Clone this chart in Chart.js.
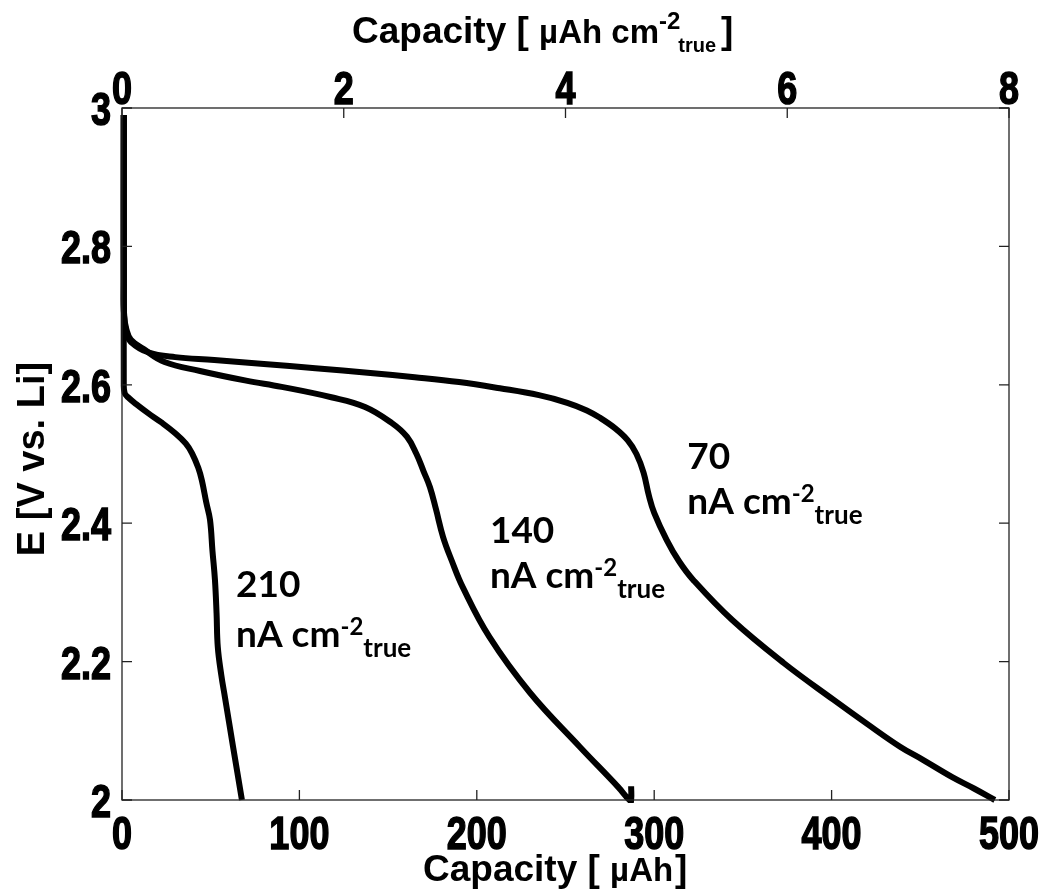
<!DOCTYPE html>
<html>
<head>
<meta charset="utf-8">
<script src="https://cdn.jsdelivr.net/npm/chart.js@4.4.1/dist/chart.umd.min.js"></script>
<style>
  body { margin: 0; background: #fff; }
  canvas { display: block; }
</style>
</head>
<body>
<canvas id="myChart" width="1045" height="890"></canvas>
<script>
// discharge curves, capacity [µAh] vs E [V vs. Li]
var cap70  = [1, 1, 1.2, 2.5, 5, 14.7, 30, 52, 80, 109, 140, 165, 190, 213, 235, 251, 262, 269, 278, 285, 290, 294, 297, 300, 307, 314, 322, 344, 373, 401, 420, 438.6, 451.5, 468, 480, 492];
var volt70 = [2.99, 2.75, 2.70, 2.675, 2.662, 2.647, 2.640, 2.636, 2.630, 2.624, 2.617, 2.611, 2.604, 2.595, 2.585, 2.574, 2.563, 2.553, 2.537, 2.52, 2.50, 2.473, 2.44, 2.415, 2.376, 2.345, 2.318, 2.26, 2.198, 2.145, 2.11, 2.077, 2.058, 2.033, 2.017, 2.0];

var cap140  = [1, 1, 1.2, 2.5, 5, 12, 24, 44, 70, 90, 118, 137, 152, 160.6, 166, 170, 173.6, 177, 181, 186, 192, 207, 230, 258, 279.6, 286, 287, 287];
var volt140 = [2.99, 2.75, 2.70, 2.68, 2.665, 2.652, 2.633, 2.62, 2.606, 2.597, 2.582, 2.568, 2.545, 2.525, 2.50, 2.475, 2.452, 2.42, 2.38, 2.345, 2.308, 2.236, 2.155, 2.077, 2.019, 2.0, 2.0, 2.02];

var cap210  = [1, 1, 1.5, 3.4, 8, 14.7, 22, 30, 36, 39.5, 43, 45, 47.5, 49.6, 51, 52.4, 53.3, 54, 56, 58, 62.6, 67.6];
var volt210 = [2.99, 2.6, 2.588, 2.582, 2.572, 2.559, 2.546, 2.53, 2.515, 2.501, 2.48, 2.462, 2.43, 2.405, 2.36, 2.318, 2.27, 2.221, 2.18, 2.149, 2.077, 2.0];

// curve labels (current density, nA cm-2 true)
var labelNums = ['210', '140', '70'];
var labelCap = [64.3, 207.4, 318.7];
var labelTopV = [2.294, 2.371, 2.479];
var labelBotV = [2.221, 2.306, 2.414];

// axis ranges
var capMin = 0, capMax = 500, capStep = 100;
var areaMin = 0, areaMax = 8, areaStep = 2;
var eMin = 2, eMax = 3, eStep = 0.2;

function toPoints(xs, ys) {
  var pts = [];
  for (var i = 0; i < xs.length; i++) {
    pts.push({x: xs[i], y: ys[i]});
  }
  return pts;
}

var titleFamily = "'Liberation Sans', Arial, sans-serif";
var labelFamily = "Lato, 'Open Sans', sans-serif";
var tickFontStr = 'bold 36px ' + titleFamily;

// 枠と内向きの目盛り
var boxPlugin = {
  id: 'boxTicks',
  afterDraw: function(chart) {
    var ctx = chart.ctx;
    var a = chart.chartArea;
    var sx = chart.scales.x, sx2 = chart.scales.x2, sy = chart.scales.y;
    var len = 10;
    ctx.save();
    ctx.strokeStyle = '#222';
    ctx.lineWidth = 1.3;
    ctx.strokeRect(a.left, a.top, a.right - a.left, a.bottom - a.top);
    ctx.beginPath();
    sx.ticks.forEach(function(t) {
      var p = sx.getPixelForValue(t.value);
      ctx.moveTo(p, a.bottom); ctx.lineTo(p, a.bottom - len);
    });
    sx2.ticks.forEach(function(t) {
      var p = sx2.getPixelForValue(t.value);
      ctx.moveTo(p, a.top); ctx.lineTo(p, a.top + len);
    });
    sy.ticks.forEach(function(t) {
      var p = sy.getPixelForValue(t.value);
      ctx.moveTo(a.left, p); ctx.lineTo(a.left + len, p);
      ctx.moveTo(a.right, p); ctx.lineTo(a.right - len, p);
    });
    ctx.stroke();

    // 目盛りラベル (縦に少し伸ばす)
    ctx.fillStyle = '#000';
    ctx.strokeStyle = '#000';
    ctx.lineWidth = 1.2;
    ctx.font = tickFontStr;
    ctx.textBaseline = 'alphabetic';
    function stretched(text, x, y, align) {
      ctx.save();
      ctx.translate(x, y);
      ctx.scale(1, 1.3);
      ctx.textAlign = align;
      ctx.fillText(text, 0, 0);
      ctx.strokeText(text, 0, 0);
      ctx.restore();
    }
    sx.ticks.forEach(function(t) {
      stretched(t.label, sx.getPixelForValue(t.value), a.bottom + 49, 'center');
    });
    sx2.ticks.forEach(function(t) {
      stretched(t.label, sx2.getPixelForValue(t.value), a.top - 4, 'center');
    });
    sy.ticks.forEach(function(t) {
      stretched(t.label, a.left - 11, sy.getPixelForValue(t.value) + 17, 'right');
    });
    ctx.restore();
  }
};

// テキスト片を順番に描く (上付き・下付きあり)
function drawRuns(ctx, runs, x, y) {
  var cx = x;
  runs.forEach(function(r) {
    ctx.font = r.font;
    ctx.fillText(r.text, cx, y + (r.dy || 0));
    cx += ctx.measureText(r.text).width + (r.gap || 0);
  });
  return cx - x;
}

var textPlugin = {
  id: 'texts',
  afterDraw: function(chart) {
    var ctx = chart.ctx;
    var sx = chart.scales.x, sy = chart.scales.y;
    ctx.save();
    ctx.fillStyle = '#000';
    ctx.textBaseline = 'alphabetic';
    ctx.textAlign = 'left';

    var big = 'bold 37px ' + titleFamily;
    var mid = 'bold 33px ' + titleFamily;
    var sup = 'bold 24px ' + titleFamily;
    var sub = 'bold 20px ' + titleFamily;

    // top axis title
    drawRuns(ctx, [
      {text: 'Capacity [ ', font: big},
      {text: 'µAh cm', font: mid},
      {text: '-2', font: sup, dy: -14, gap: -2},
      {text: 'true', font: sub, dy: 9, gap: 5},
      {text: ']', font: big}
    ], 352, 43);

    // bottom axis title
    drawRuns(ctx, [
      {text: 'Capacity [ ', font: big},
      {text: 'µAh', font: mid, gap: 2},
      {text: ']', font: big}
    ], 423, 881);

    // y axis title
    ctx.save();
    ctx.translate(44, 459);
    ctx.rotate(-Math.PI / 2);
    ctx.textAlign = 'center';
    ctx.font = 'bold 38px ' + titleFamily;
    ctx.fillText('E [V vs. Li]', 0, 0);
    ctx.restore();

    // curve labels
    var lblBig = 'bold 37px ' + labelFamily;
    var lblSup = 'bold 24px ' + labelFamily;
    var lblSub = 'bold 26px ' + labelFamily;
    for (var i = 0; i < labelNums.length; i++) {
      var px = sx.getPixelForValue(labelCap[i]);
      ctx.font = lblBig;
      ctx.fillText(labelNums[i], px, sy.getPixelForValue(labelTopV[i]));
      drawRuns(ctx, [
        {text: 'nA cm', font: lblBig},
        {text: '-2', font: lblSup, dy: -12},
        {text: 'true', font: lblSub, dy: 10}
      ], px, sy.getPixelForValue(labelBotV[i]));
    }
    ctx.restore();
  }
};

function lineSet(label, xs, ys) {
  return {
    label: label,
    data: toPoints(xs, ys),
    borderColor: '#000',
    backgroundColor: '#000',
    borderWidth: 6,
    pointRadius: 0,
    tension: 0.4,
    fill: false,
    clip: false
  };
}

var ctx = document.getElementById('myChart').getContext('2d');
var myChart = new Chart(ctx, {
  type: 'line',
  data: {
    datasets: [
      lineSet('70', cap70, volt70),
      lineSet('140', cap140, volt140),
      lineSet('210', cap210, volt210)
    ]
  },
  options: {
    responsive: false,
    animation: false,
    layout: { padding: { left: 0, right: 36, top: 0, bottom: 0 } },
    plugins: {
      legend: { display: false },
      tooltip: { enabled: false }
    },
    scales: {
      x: {
        type: 'linear',
        position: 'bottom',
        min: capMin, max: capMax,
        grid: { display: false, drawTicks: false },
        border: { display: false },
        ticks: { stepSize: capStep, display: false },
        afterFit: function(s) { s.height = 90; }
      },
      x2: {
        type: 'linear',
        position: 'top',
        min: areaMin, max: areaMax,
        grid: { display: false, drawTicks: false },
        border: { display: false },
        ticks: { stepSize: areaStep, display: false },
        afterFit: function(s) { s.height = 108; }
      },
      y: {
        type: 'linear',
        min: eMin, max: eMax,
        grid: { display: false, drawTicks: false },
        border: { display: false },
        ticks: {
          stepSize: eStep, display: false,
          callback: function(v) { return +v.toFixed(1) + ''; }
        },
        afterFit: function(s) { s.width = 122; }
      }
    }
  },
  plugins: [boxPlugin, textPlugin]
});
</script>
</body>
</html>
